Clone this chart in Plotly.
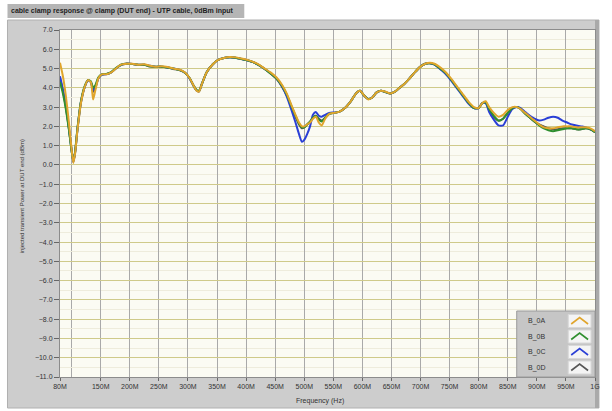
import plotly.graph_objects as go

# Frequency sweep points (MHz)
freq_mhz = [
    80, 85, 90, 95, 100, 103, 106, 110, 116, 122,
    128, 133, 137, 141, 146, 152, 160, 168, 176, 185,
    195, 205, 215, 225, 235, 245, 255, 265, 275, 285,
    295, 303, 310, 315, 319, 324, 332, 342, 352, 362,
    372, 382, 392, 402, 412, 422, 432, 442, 452, 462,
    470, 478, 485, 491, 496, 500, 505, 510, 515, 520,
    525, 530, 536, 543, 551, 560, 570, 580, 590, 596,
    603, 610, 617, 624, 632, 640, 648, 656, 664, 672,
    680, 690, 700, 708, 716, 724, 732, 742, 752, 762,
    772, 782, 792, 800, 806, 812, 818, 826, 834, 842,
    850, 858, 866, 872, 880, 888, 896, 904, 912, 920,
    928, 936, 944, 952, 960, 968, 976, 984, 992, 1000,
]

# Injected power at DUT end (dBm), one list per clamp position
b_0a = [
    5.3, 4.6, 3.6, 2.3, 0.8, 0.1, 0.6, 1.8, 3.2, 4.0,
    4.4, 4.3, 3.4, 3.9, 4.5, 4.7, 4.7, 4.8, 5.0, 5.2,
    5.25, 5.25, 5.2, 5.22, 5.15, 5.1, 5.12, 5.08, 5.0, 4.95,
    4.8, 4.5, 4.1, 3.85, 3.8, 4.2, 4.8, 5.2, 5.45, 5.55,
    5.6, 5.58, 5.52, 5.45, 5.35, 5.2, 5.0, 4.8, 4.55, 4.15,
    3.7, 3.1, 2.6, 2.2, 2.0, 2.0, 2.1, 2.2, 2.4, 2.5,
    2.2, 2.05, 2.4, 2.65, 2.7, 2.75, 2.95, 3.3, 3.75, 3.85,
    3.6, 3.4, 3.5, 3.75, 3.85, 3.8, 3.7, 3.8, 4.0, 4.2,
    4.45, 4.8, 5.1, 5.25, 5.3, 5.25, 5.1, 4.85, 4.5, 4.1,
    3.7, 3.3, 3.0, 2.95, 3.2, 3.3, 3.0, 2.7, 2.5, 2.6,
    2.85, 3.0, 3.0, 2.9, 2.7, 2.5, 2.3, 2.1, 1.95, 1.9,
    1.9, 1.95, 2.0, 2.0, 2.0, 1.95, 1.95, 1.95, 1.9, 1.75,
]

b_0b = [
    4.3, 3.7, 2.9, 1.9, 0.7, 0.2, 0.7, 1.9, 3.3, 4.05,
    4.4, 4.35, 4.0, 4.15, 4.55, 4.7, 4.72, 4.82, 5.02, 5.2,
    5.25, 5.23, 5.2, 5.2, 5.12, 5.1, 5.1, 5.06, 5.0, 4.93,
    4.78, 4.5, 4.1, 3.88, 3.85, 4.2, 4.8, 5.2, 5.45, 5.55,
    5.58, 5.56, 5.5, 5.43, 5.33, 5.18, 4.98, 4.75, 4.5, 4.1,
    3.65, 3.05, 2.55, 2.15, 1.95, 1.95, 2.1, 2.25, 2.45, 2.55,
    2.35, 2.25, 2.45, 2.65, 2.7, 2.75, 2.95, 3.3, 3.75, 3.85,
    3.6, 3.42, 3.5, 3.75, 3.85, 3.78, 3.7, 3.8, 4.0, 4.2,
    4.45, 4.8, 5.1, 5.25, 5.28, 5.22, 5.05, 4.8, 4.45, 4.05,
    3.65, 3.25, 2.95, 2.95, 3.2, 3.25, 2.9, 2.55, 2.3, 2.4,
    2.7, 2.95, 3.0, 2.9, 2.65, 2.45, 2.25, 2.05, 1.9, 1.8,
    1.75, 1.8, 1.85, 1.9, 1.9, 1.85, 1.85, 1.9, 1.85, 1.7,
]

b_0c = [
    4.6, 3.9, 3.1, 2.0, 0.75, 0.15, 0.65, 1.85, 3.25, 4.0,
    4.38, 4.3, 3.9, 4.05, 4.5, 4.68, 4.7, 4.8, 5.0, 5.18,
    5.25, 5.24, 5.2, 5.2, 5.14, 5.1, 5.1, 5.06, 5.0, 4.94,
    4.78, 4.48, 4.08, 3.86, 3.82, 4.2, 4.8, 5.2, 5.45, 5.55,
    5.58, 5.56, 5.5, 5.43, 5.33, 5.18, 4.98, 4.76, 4.5, 4.05,
    3.55, 2.85, 2.2, 1.6, 1.2, 1.3, 1.6, 2.0, 2.6, 2.75,
    2.55, 2.5, 2.6, 2.7, 2.72, 2.75, 2.95, 3.3, 3.75, 3.85,
    3.6, 3.42, 3.5, 3.75, 3.85, 3.78, 3.7, 3.8, 4.0, 4.2,
    4.45, 4.8, 5.1, 5.25, 5.28, 5.2, 5.02, 4.75, 4.4, 4.0,
    3.6, 3.2, 2.95, 2.95, 3.2, 3.2, 2.75, 2.35, 2.05, 2.05,
    2.5, 2.9, 3.0, 2.95, 2.75, 2.55, 2.4, 2.3, 2.35, 2.45,
    2.5, 2.45, 2.3, 2.2, 2.1, 2.05, 2.0, 1.95, 1.85, 1.75,
]

b_0d = [
    4.5, 3.85, 3.0, 1.95, 0.75, 0.15, 0.65, 1.85, 3.25, 4.0,
    4.4, 4.3, 3.8, 4.0, 4.5, 4.7, 4.72, 4.8, 5.0, 5.2,
    5.26, 5.24, 5.18, 5.2, 5.1, 5.08, 5.1, 5.06, 4.98, 4.92,
    4.78, 4.5, 4.1, 3.86, 3.82, 4.2, 4.8, 5.2, 5.45, 5.55,
    5.58, 5.56, 5.5, 5.43, 5.33, 5.18, 4.98, 4.75, 4.48, 4.05,
    3.6, 3.0, 2.5, 2.1, 1.9, 1.95, 2.1, 2.25, 2.45, 2.55,
    2.4, 2.3, 2.45, 2.65, 2.7, 2.75, 2.95, 3.3, 3.75, 3.85,
    3.6, 3.42, 3.5, 3.75, 3.85, 3.78, 3.7, 3.8, 4.0, 4.2,
    4.45, 4.8, 5.1, 5.25, 5.28, 5.22, 5.05, 4.8, 4.45, 4.05,
    3.65, 3.25, 2.95, 2.95, 3.2, 3.25, 2.85, 2.5, 2.3, 2.4,
    2.7, 2.95, 3.0, 2.9, 2.65, 2.45, 2.25, 2.1, 2.0, 1.9,
    1.85, 1.85, 1.9, 1.9, 1.9, 1.85, 1.85, 1.9, 1.85, 1.7,
]

series_names = ["B_0A", "B_0B", "B_0C", "B_0D"]
series_values = [b_0a, b_0b, b_0c, b_0d]
series_colors = ["#e0a52c", "#2f8f2f", "#2a3fd6", "#555555"]

x_tick_vals = [80, 150, 200, 250, 300, 350, 400, 450, 500, 550,
               600, 650, 700, 750, 800, 850, 900, 950, 1000]
x_tick_text = ["80M", "150M", "200M", "250M", "300M", "350M", "400M", "450M",
               "500M", "550M", "600M", "650M", "700M", "750M", "800M",
               "850M", "900M", "950M", "1G"]
y_tick_vals = list(range(-11, 8))

title_text = "cable clamp response @ clamp (DUT end) - UTP cable, 0dBm input"
y_title = "injected transient Power at DUT end (dBm)"
x_title = "Frequency (Hz)"

W, H = 612, 411
M_L, M_R, M_T, M_B = 60, 12, 30, 34
PW, PH = W - M_L - M_R, H - M_T - M_B


def px(xp):
    return (xp - M_L) / PW


def py(yp):
    return (H - M_B - yp) / PH


FONT = "Liberation Sans"

fig = go.Figure()

# draw order: dark, blue, green, gold on top
for idx in [3, 2, 1, 0]:
    fig.add_trace(go.Scatter(
        x=freq_mhz, y=series_values[idx], mode="lines",
        name=series_names[idx], showlegend=False,
        line=dict(color=series_colors[idx], width=2, shape="spline", smoothing=0.6),
    ))

shapes = []
# grey front panel
shapes.append(dict(type="rect", xref="paper", yref="paper", layer="below",
                   x0=px(7), x1=px(604), y0=py(408), y1=py(20),
                   fillcolor="#cdcdcd", line=dict(color="#b0b0b0", width=1)))
# dark right edge of the panel
shapes.append(dict(type="rect", xref="paper", yref="paper", layer="below",
                   x0=px(600), x1=px(604), y0=py(408), y1=py(20),
                   fillcolor="#a9a9a9", line=dict(width=0)))
# plot area background
shapes.append(dict(type="rect", xref="paper", yref="paper", layer="below",
                   x0=0, x1=1, y0=0, y1=1,
                   fillcolor="#fbfbf3", line=dict(width=0)))
# title bar
shapes.append(dict(type="rect", xref="paper", yref="paper", layer="below",
                   x0=px(7), x1=px(246), y0=py(18), y1=py(4),
                   fillcolor="#b5b5b5", line=dict(width=0)))

annotations = [
    dict(text=title_text, xref="paper", yref="paper", x=px(9), y=py(11),
         xanchor="left", yanchor="middle", showarrow=False,
         font=dict(family=FONT, size=7, color="#1e1e1e", weight="bold")),
    dict(text=y_title, xref="paper", yref="paper", x=px(22), y=py(196),
         xanchor="center", yanchor="middle", showarrow=False, textangle=-90,
         font=dict(family=FONT, size=6, color="#333333")),
    dict(text=x_title, xref="paper", yref="paper", x=px(322), y=py(401),
         xanchor="center", yanchor="middle", showarrow=False,
         font=dict(family=FONT, size=7, color="#333333")),
]

# plot legend box, names on the left, line samples on the right
lg_x0, lg_x1, lg_y0, lg_y1 = 521, 600, 311, 377
shapes.append(dict(type="rect", xref="paper", yref="paper", layer="above",
                   x0=px(lg_x0), x1=px(lg_x1), y0=py(lg_y1), y1=py(lg_y0),
                   fillcolor="#c6c6c6", line=dict(color="#9a9a9a", width=1)))
for i, (name, color) in enumerate(zip(series_names, series_colors)):
    cy = 321 + i * 15.5
    annotations.append(dict(text=name, xref="paper", yref="paper",
                            x=px(530), y=py(cy), xanchor="left", yanchor="middle",
                            showarrow=False,
                            font=dict(family=FONT, size=7, color="#333333")))
    shapes.append(dict(type="rect", xref="paper", yref="paper", layer="above",
                       x0=px(573), x1=px(596), y0=py(cy + 6.5), y1=py(cy - 6.5),
                       fillcolor="#f4f4f4", line=dict(color="#d8d8d8", width=1)))
    shapes.append(dict(type="path", xref="paper", yref="paper", layer="above",
                       path=(f"M {px(576)},{py(cy + 3)} L {px(584.5)},{py(cy - 3.5)} "
                             f"L {px(593)},{py(cy + 3)}"),
                       line=dict(color=color, width=1.6)))

fig.update_layout(
    width=W, height=H,
    margin=dict(l=M_L, r=M_R, t=M_T, b=M_B, pad=0),
    paper_bgcolor="white",
    plot_bgcolor="#fbfbf3",
    shapes=shapes,
    annotations=annotations,
    showlegend=False,
    font=dict(family=FONT, size=7, color="#333333"),
)

fig.update_xaxes(
    range=[80, 1000], tickmode="array", tickvals=x_tick_vals, ticktext=x_tick_text,
    showgrid=True, gridcolor="#a9a9a9", gridwidth=1,
    ticks="outside", ticklen=3, tickcolor="#666666",
    tickfont=dict(family=FONT, size=7, color="#333333"),
    showline=True, linecolor="#8c8c8c", mirror=True, zeroline=False,
    minor=dict(tickmode="array", tickvals=[100], showgrid=True,
               gridcolor="#a9a9a9", gridwidth=1, ticks=""),
)
fig.update_yaxes(
    range=[-11, 7], tickmode="array", tickvals=y_tick_vals, tickformat=".1f",
    showgrid=True, gridcolor="#cfca8a", gridwidth=1,
    ticks="outside", ticklen=5, tickcolor="#666666",
    tickfont=dict(family=FONT, size=7, color="#333333"),
    showline=True, linecolor="#8c8c8c", mirror=True, zeroline=False,
    minor=dict(dtick=0.5, showgrid=True, gridcolor="#eeecdc", gridwidth=1, ticks=""),
)

fig.write_html("out.html")
